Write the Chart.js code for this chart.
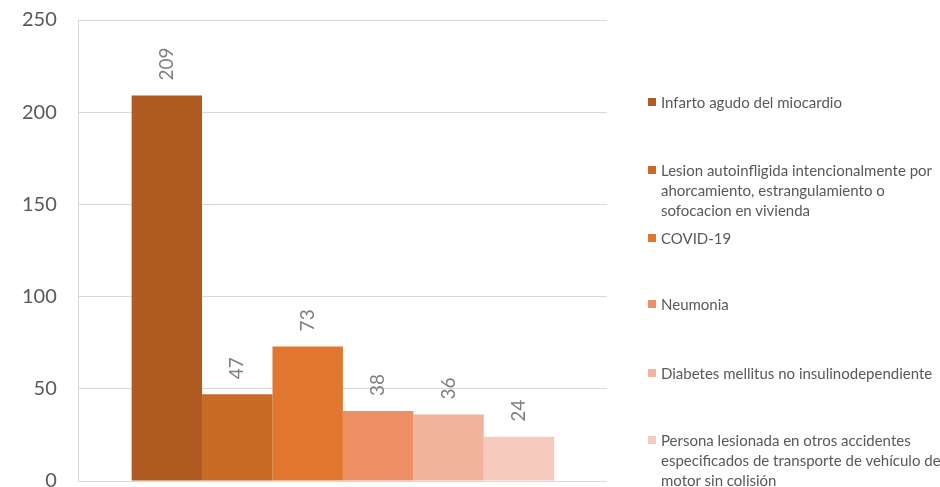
<!DOCTYPE html>
<html>
<head>
<meta charset="utf-8">
<script src="https://cdn.jsdelivr.net/npm/chart.js@4.4.1/dist/chart.umd.min.js"></script>
<style>
  html, body { margin: 0; padding: 0; background: #fff; overflow: hidden; }
  #wrap { position: relative; width: 940px; height: 487px; overflow: hidden; }
  #box { position: absolute; left: 0; top: -14px; width: 630px; height: 529px; }
  #legend { position: absolute; left: 0; top: 0; width: 940px; height: 487px; pointer-events: none; }
  .item { position: absolute; left: 648px; font-family: Lato, "Open Sans", sans-serif; font-size: 15px; line-height: 20px; color: #595959; }
  .item .sw { position: absolute; left: 0; top: 6px; width: 8px; height: 8px; }
  .item .tx { margin-left: 13px; white-space: pre; }
</style>
</head>
<body>
<div id="wrap">
  <div id="box"><canvas id="chart"></canvas></div>
  <div id="legend"></div>
</div>
<script>
// ---------------- DATA ----------------
const causes = [
    "Infarto agudo del miocardio",
    "Lesion autoinfligida intencionalmente por\nahorcamiento, estrangulamiento o\nsofocacion en vivienda",
    "COVID-19",
    "Neumonia",
    "Diabetes mellitus no insulinodependiente",
    "Persona lesionada en otros accidentes\nespecificados de transporte de vehículo de\nmotor sin colisión"
];
const deaths = [209, 47, 73, 38, 36, 24];
const barColors = ["#ae5a21", "#c96a27", "#e1772e", "#ef8f65", "#f2b29c", "#f6cbbd"];
const yTicks = [0, 50, 100, 150, 200, 250];

// legend item tops (px), same order as causes
const legendTops = [92, 160, 228, 294, 363, 430];

// ---------------- VALUE LABELS ----------------
const rotatedLabels = {
    id: "rotatedLabels",
    afterDatasetsDraw(chart) {
        const ctx = chart.ctx;
        ctx.save();
        ctx.fillStyle = "#7f7f7f";
        ctx.font = "19px Lato, 'Open Sans', sans-serif";
        ctx.textAlign = "left";
        ctx.textBaseline = "middle";
        chart.data.datasets.forEach((ds, i) => {
            const bar = chart.getDatasetMeta(i).data[0];
            ctx.save();
            ctx.translate(bar.x, bar.y - 15);
            ctx.rotate(-Math.PI / 2);
            ctx.fillText(String(ds.data[0]), 0, 0);
            ctx.restore();
        });
        ctx.restore();
    }
};

new Chart(document.getElementById("chart"), {
    type: "bar",
    data: {
        labels: [""],
        datasets: causes.map((c, i) => ({
            label: c,
            data: [deaths[i]],
            backgroundColor: barColors[i],
            categoryPercentage: 0.8,
            barPercentage: 1.0
        }))
    },
    options: {
        responsive: true,
        maintainAspectRatio: false,
        animation: false,
        layout: { padding: { left: 0, right: 23, top: 8, bottom: 0 } },
        plugins: {
            legend: { display: false },
            tooltip: { enabled: false }
        },
        scales: {
            x: { display: false },
            y: {
                min: 0,
                max: 250,
                afterBuildTicks: (axis) => { axis.ticks = yTicks.map(v => ({ value: v })); },
                grid: { color: "#d9d9d9", drawTicks: false },
                border: { display: true, color: "#d9d9d9" },
                ticks: {
                    color: "#595959",
                    padding: 22,
                    font: { family: "Lato, 'Open Sans', sans-serif", size: 20 }
                }
            }
        }
    },
    plugins: [rotatedLabels]
});

// ---------------- LEGEND ----------------
const legend = document.getElementById("legend");
causes.forEach((c, i) => {
    const el = document.createElement("div");
    el.className = "item";
    el.style.top = legendTops[i] + "px";
    el.innerHTML = `<span class="sw" style="background:${barColors[i]}"></span><div class="tx"></div>`;
    el.querySelector(".tx").textContent = c;
    legend.appendChild(el);
});
</script>
</body>
</html>
